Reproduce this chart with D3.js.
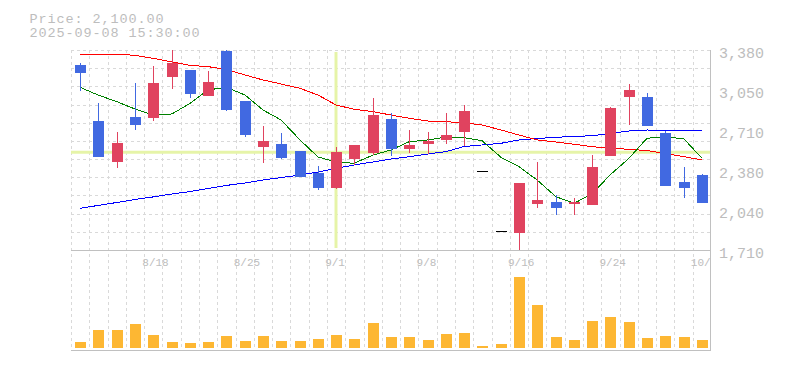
<!DOCTYPE html>
<html>
<head>
<meta charset="utf-8">
<script src="https://cdn.jsdelivr.net/npm/d3@7"></script>
<style>
  body { margin: 0; background: #fff; }
  text { font-family: "Liberation Mono", "DejaVu Sans Mono", monospace; fill: #bdbdbd; }
</style>
</head>
<body>
<div id="chart-area"></div>
<script>
// DATA

const dates = ["8/12","8/13","8/14","8/15","8/18","8/19","8/20","8/21","8/22",
  "8/25","8/26","8/27","8/28","8/29","9/1","9/2","9/3","9/4","9/5",
  "9/8","9/9","9/10","9/11","9/12","9/16","9/17","9/18","9/19","9/22",
  "9/24","9/25","9/26","9/29","9/30","10/1"]

const open  = [3255,2790,2447,2820,2815,3157,3213,2998,3375,2954,2570,2595,2537,2353,2230,2470,2520,2804,2553,2595,2628,2695,2367,1866,1854,2094,2111,2098,2088,2495,2988,2988,2687,2278,2336]
const high  = [3274,2940,2695,3107,3249,3380,3213,3205,3380,2954,2745,2687,2537,2411,2570,2587,2979,2854,2712,2695,2854,2921,2367,1866,2269,2445,2169,2144,2503,2904,3096,3021,2704,2403,2345]
const low   = [3040,2485,2397,2712,2790,3054,2979,2998,2871,2656,2439,2467,2317,2213,2222,2420,2503,2495,2520,2512,2595,2578,2367,1866,1700,2063,2005,2005,2088,2495,2754,2745,2244,2147,2100]
const close = [3190,2489,2603,2756,3107,3271,3015,3113,2879,2670,2620,2476,2322,2230,2528,2587,2837,2553,2587,2620,2670,2871,2367,1866,2269,2127,2063,2107,2403,2896,3046,2745,2244,2228,2100]

const volume = [61,184,184,245,133,61,51,61,122,71,122,71,71,92,133,92,255,112,112,82,143,153,20,41,724,439,112,82,276,316,265,102,122,112,82]

// moving averages (short / mid / long)
const maShort = [3069,3004,2948,2887,2837,2846,2935,3046,3069,3004,2879,2796,2629,2487,2445,2434,2503,2545,2614,2629,2654,2648,2623,2484,2406,2295,2155,2100,2178,2336,2476,2643,2656,2637,2476]
const maMid   = [3344,3344,3344,3336,3311,3280,3252,3241,3219,3171,3130,3096,3060,3004,2921,2885,2865,2837,2810,2787,2781,2773,2754,2712,2670,2629,2612,2593,2573,2560,2551,2540,2517,2489,2462]
const maLong  = [2058,2082,2107,2132,2153,2178,2198,2223,2249,2269,2295,2315,2336,2361,2391,2420,2445,2470,2489,2512,2531,2574,2587,2601,2629,2641,2651,2658,2664,2683,2704,2712,2708,2706,2704]

const priceTicks = [3380,3050,2710,2380,2040,1710]
const dateTicks = ["8/18","8/25","9/1","9/8","9/16","9/24","10/1"]

const cursorDate = "9/1"
const cursorPrice = 2526

const headerLines = ["Price: 2,100.00", "2025-09-08 15:30:00"]

// CHART AREA
const W = 785, H = 370
const plot = { left: 71, right: 711, top: 50, bottom: 250, volBottom: 348 }

const svg = d3.select("#chart-area")
  .append("svg")
    .attr("width", W)
    .attr("height", H)

const idx = d3.range(dates.length)

const xScale = d3.scaleBand()
  .domain(idx)
  .range([plot.left, plot.right])
  .padding(0)

const bw = xScale.bandwidth()
const cw = 11 // candle / volume bar width
const cx = (i) => Math.round(xScale(i) + bw / 2)

const yScale = d3.scaleLinear()
  .domain([1710, 3380])
  .range([plot.bottom, plot.top])

const vScale = d3.scaleLinear()
  .domain([0, 1000])
  .range([plot.volBottom, plot.bottom])

// GRID
const grid = svg.append("g")
  .attr("stroke", "#d9d9d9")
  .attr("stroke-dasharray", "3,3")
  .attr("shape-rendering", "crispEdges")

// horizontal grid in price panel (square cells, same step as bands)
const hSteps = d3.range(0, 11)
grid.selectAll(".hgrid")
  .data(hSteps)
  .enter().append("line")
    .attr("x1", plot.left)
    .attr("x2", plot.right - 1)
    .attr("y1", (d) => Math.round(plot.top + d * (plot.bottom - plot.top) / 11) + 0.5)
    .attr("y2", (d) => Math.round(plot.top + d * (plot.bottom - plot.top) / 11) + 0.5)

// vertical grid at band edges, both panels
grid.selectAll(".vgrid")
  .data(idx)
  .enter().append("line")
    .attr("x1", (d) => Math.round(xScale(d)) + 0.5)
    .attr("x2", (d) => Math.round(xScale(d)) + 0.5)
    .attr("y1", plot.top)
    .attr("y2", plot.volBottom + 2)

// CROSSHAIR
const cursor = svg.append("g")
  .attr("stroke", "#e6f4a8")
  .attr("stroke-width", 3)
cursor.append("line")
  .attr("x1", cx(dates.indexOf(cursorDate)))
  .attr("x2", cx(dates.indexOf(cursorDate)))
  .attr("y1", plot.top + 2)
  .attr("y2", plot.bottom - 2)
cursor.append("line")
  .attr("x1", plot.left)
  .attr("x2", plot.right - 1)
  .attr("y1", yScale(cursorPrice))
  .attr("y2", yScale(cursorPrice))

// clip for price panel
svg.append("clipPath")
  .attr("id", "price-clip")
  .append("rect")
    .attr("x", plot.left)
    .attr("y", plot.top)
    .attr("width", plot.right - plot.left)
    .attr("height", plot.bottom - plot.top + 1)

const price = svg.append("g")
  .attr("clip-path", "url(#price-clip)")
  .attr("shape-rendering", "crispEdges")

// MOVING AVERAGES
const lineGen = (arr) => d3.line()
  .x((d, i) => cx(i))
  .y((d) => yScale(d))(arr)

const maSeries = [
  { values: maLong, color: "#0000ff" },
  { values: maMid, color: "#ff0000" },
  { values: maShort, color: "#008000" }
]
price.selectAll(".ma")
  .data(maSeries)
  .enter().append("path")
    .attr("d", (d) => lineGen(d.values))
    .attr("fill", "none")
    .attr("stroke", (d) => d.color)
    .attr("stroke-width", 1)

// CANDLES
const upColor = "#e0435f", downColor = "#4169e1"
const candleColor = (i) => close[i] > open[i] ? upColor : (close[i] < open[i] ? downColor : "#000")

price.selectAll(".wick")
  .data(idx)
  .enter().append("line")
    .attr("x1", (i) => cx(i) + 0.5)
    .attr("x2", (i) => cx(i) + 0.5)
    .attr("y1", (i) => yScale(high[i]))
    .attr("y2", (i) => yScale(low[i]))
    .attr("stroke", candleColor)

price.selectAll(".body")
  .data(idx)
  .enter().append("rect")
    .attr("x", (i) => cx(i) - 5)
    .attr("width", cw)
    .attr("y", (i) => yScale(Math.max(open[i], close[i])))
    .attr("height", (i) => Math.max(1, yScale(Math.min(open[i], close[i])) - yScale(Math.max(open[i], close[i]))))
    .attr("fill", candleColor)

// VOLUME
svg.append("g")
  .attr("shape-rendering", "crispEdges")
  .selectAll("rect")
  .data(idx)
  .enter().append("rect")
    .attr("x", (i) => cx(i) - 5)
    .attr("width", cw)
    .attr("y", (i) => vScale(volume[i]))
    .attr("height", (i) => plot.volBottom - vScale(volume[i]))
    .attr("fill", "#fdb733")

// FRAME (solid grey lines)
const frame = svg.append("g")
  .attr("stroke", "#c0c0c0")
  .attr("shape-rendering", "crispEdges")
frame.append("line")
  .attr("x1", plot.left).attr("x2", plot.right)
  .attr("y1", plot.bottom + 0.5).attr("y2", plot.bottom + 0.5)
frame.append("line")
  .attr("x1", plot.left).attr("x2", plot.right)
  .attr("y1", plot.volBottom + 2.5).attr("y2", plot.volBottom + 2.5)
frame.append("line")
  .attr("x1", plot.right - 0.5).attr("x2", plot.right - 0.5)
  .attr("y1", plot.top).attr("y2", plot.volBottom + 3)

// AXES
// price axis on the right, labels hang below their tick
const yAxisCall = d3.axisRight(yScale)
  .tickValues(priceTicks.map((d, i) => 3380 - i * (3380 - 1710) / 5))
  .tickSize(0)
  .tickFormat((d, i) => d3.format(",")(priceTicks[i]))
const yAxis = svg.append("g")
  .attr("transform", "translate(" + (plot.right + 8) + ", 0)")
  .call(yAxisCall)
yAxis.select(".domain").remove()
yAxis.selectAll("text")
  .attr("x", 0)
  .attr("dy", "7.7px")
  .attr("font-size", "15px")
  .attr("font-family", "Liberation Mono, monospace")
  .attr("fill", "#bdbdbd")

// date axis along top of volume panel, clipped at plot edge
svg.append("clipPath")
  .attr("id", "date-clip")
  .append("rect")
    .attr("x", plot.left)
    .attr("y", plot.bottom)
    .attr("width", plot.right - plot.left - 1)
    .attr("height", 30)

const xAxisCall = d3.axisBottom(xScale)
  .tickValues(dateTicks.map((d) => dates.indexOf(d)))
  .tickSize(0)
  .tickFormat((i) => dates[i])
const xAxis = svg.append("g")
  .attr("clip-path", "url(#date-clip)")
  .append("g")
    .attr("transform", "translate(0, " + plot.bottom + ")")
    .call(xAxisCall)
xAxis.select(".domain").remove()
xAxis.selectAll("text")
  .attr("text-anchor", "start")
  .attr("x", -11)
  .attr("y", 16)
  .attr("dy", 0)
  .attr("font-size", "11px")
  .attr("font-family", "Liberation Mono, monospace")
  .attr("fill", "#bdbdbd")

// HEADER (13px with extra spacing so lines don't collide but keep 9px advance)
svg.selectAll(".header")
  .data(headerLines)
  .enter().append("text")
    .attr("x", 29.5)
    .attr("y", (d, i) => 22.5 + i * 14.7)
    .attr("font-size", "13.5px")
    .attr("letter-spacing", "0.9px")
    .text((d) => d)
</script>
</body>
</html>
